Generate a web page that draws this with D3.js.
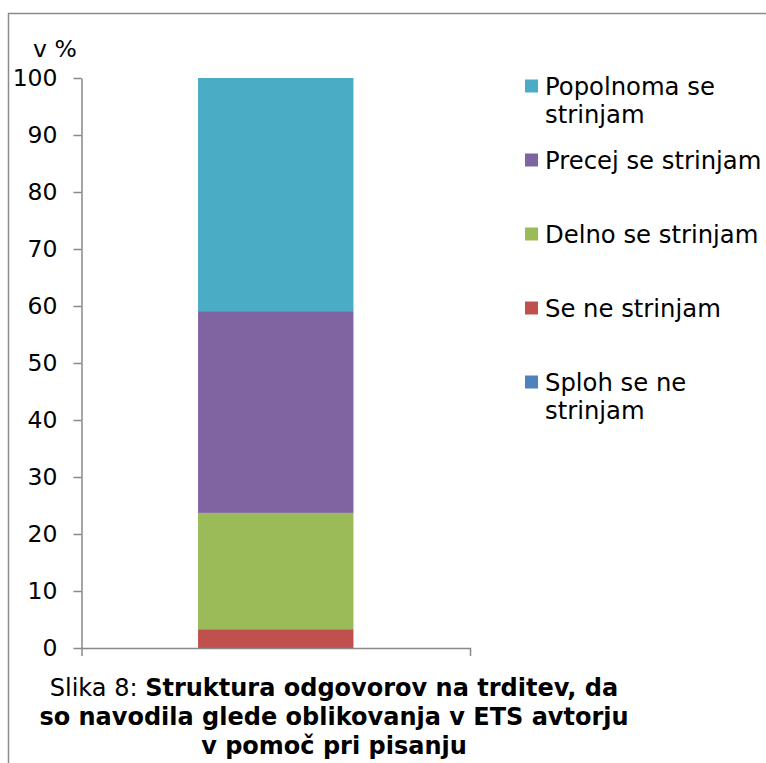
<!DOCTYPE html>
<html>
<head>
	<meta charset="UTF-8" />
	<title>Slika 8</title>
	<script src="https://d3js.org/d3.v7.min.js"></script>
	<style>
		body { margin: 0; background: #fff; }
		text { font-family: "DejaVu Sans", Verdana, sans-serif; fill: #000; }
	</style>
</head>
<body>
	<svg id="chart" width="766" height="763"></svg>

	<script type="text/javascript">
	// data (percent)
	var categories = [""]
	var keys = ["Sploh se ne strinjam", "Se ne strinjam", "Delno se strinjam", "Precej se strinjam", "Popolnoma se strinjam"]
	var values = [0, 3.3, 20.4, 35.4, 40.9]
	var colors = ["#4f81bd", "#c0504d", "#9bbb59", "#8064a2", "#4bacc6"]
	var yTicks = [0, 10, 20, 30, 40, 50, 60, 70, 80, 90, 100]
	var yLabel = "v %"
	var titleLines = [
		[{t: "Slika 8: ", b: false}, {t: "Struktura odgovorov na trditev, da", b: true}],
		[{t: "so navodila glede oblikovanja v ETS avtorju", b: true}],
		[{t: "v pomoč pri pisanju", b: true}]
	]

	var axisGray = "#898989"

	var svg = d3.select("#chart")

	// outer frame (runs off the right and bottom edge)
	svg.append("rect")
		.attr("x", 8.5).attr("y", 13.5)
		.attr("width", 900).attr("height", 900)
		.style("fill", "none")
		.style("stroke", "#8c8c8c")
		.style("stroke-width", 1.5)

	// scales
	var y = d3.scaleLinear().domain([0, 100]).range([648, 78])
	var x = d3.scaleBand().domain(categories).range([81.5, 470]).paddingInner(0).paddingOuter(0.75)

	// stacked data
	var row = {cat: categories[0]}
	keys.forEach((k, i) => row[k] = values[i])
	var series = d3.stack().keys(keys)([row])

	svg.append("g").selectAll("rect")
		.data(series)
		.enter()
		.append("rect")
		.attr("x", d => x(d[0].data.cat))
		.attr("width", x.bandwidth())
		.attr("y", d => y(d[0][1]))
		.attr("height", d => y(d[0][0]) - y(d[0][1]))
		.style("fill", (d, i) => colors[i])

	// y axis
	var gy = svg.append("g")
		.attr("transform", "translate(81.5,0)")
		.call(d3.axisLeft(y).tickValues(yTicks).tickSize(8).tickSizeOuter(0).tickPadding(16))
	gy.selectAll("text").style("font-size", "23.5px").style("font-family", '"DejaVu Sans", Verdana, sans-serif')

	// x axis
	var gx = svg.append("g")
		.attr("transform", "translate(0,648)")
		.call(d3.axisBottom(x).tickSizeInner(0).tickSizeOuter(8).tickFormat(""))

	svg.selectAll(".domain, .tick line")
		.style("stroke", axisGray)
		.style("stroke-width", 1.5)

	svg.append("text")
		.attr("x", 33).attr("y", 57)
		.style("font-size", "23.5px")
		.text(yLabel)

	// legend, top to bottom reversed
	var legend = svg.append("g")
	var legendKeys = keys.slice().reverse()
	legendKeys.forEach((k, i) => {
		var cy = 86 + i * 74
		legend.append("rect")
			.attr("x", 525).attr("y", cy - 6.5)
			.attr("width", 13).attr("height", 13)
			.style("fill", colors[keys.indexOf(k)])
		var t = legend.append("text")
			.attr("x", 545).attr("y", cy + 9)
			.style("font-size", "24.3px")
		// wrap words to fit right edge
		var words = k.split(" "), line = []
		var ts = t.append("tspan").attr("x", 545).attr("dy", 0)
		words.forEach(w => {
			line.push(w)
			ts.text(line.join(" "))
			if (ts.node().getComputedTextLength() > 222 && line.length > 1) {
				line.pop()
				ts.text(line.join(" "))
				line = [w]
				ts = t.append("tspan").attr("x", 545).attr("dy", 28).text(w)
			}
		})
	})

	// title
	var title = svg.append("text")
		.attr("text-anchor", "middle")
		.style("font-size", "24px")
	titleLines.forEach((parts, i) => {
		parts.forEach((p, j) => {
			var ts = title.append("tspan")
				.style("font-weight", p.b ? "bold" : "normal")
				.text(p.t)
			if (j == 0) ts.attr("x", 334).attr("y", 696 + i * 29)
		})
	})
	</script>
</body>
</html>
